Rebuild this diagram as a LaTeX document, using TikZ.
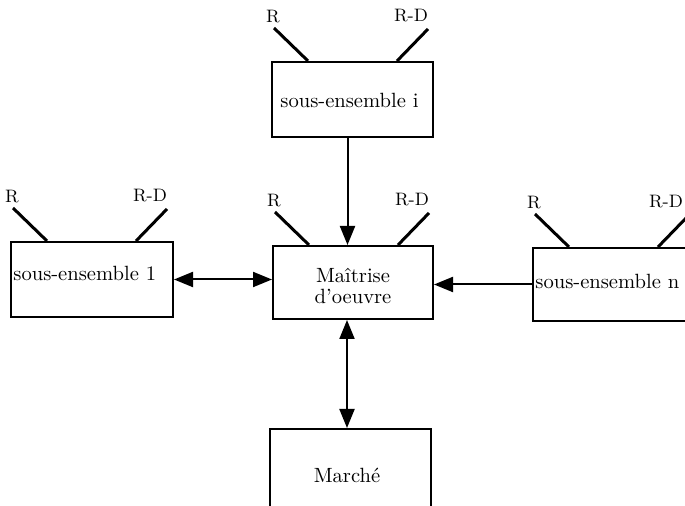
\documentclass[tikz,border=0pt]{standalone}
\usetikzlibrary{calc,arrows.meta}
\begin{document}
\begin{tikzpicture}[x=0.5pt,y=-0.5pt,
  box/.style={draw,line width=1pt,rectangle,inner sep=0pt,anchor=north west},
  txt/.style={inner sep=0pt,font=\fontsize{10.3}{12}\selectfont},
  lab/.style={inner sep=0pt,font=\fontsize{9}{10}\selectfont},
  ant/.style={line width=1.5pt},
  arr/.style={line width=1pt,-{Triangle[length=9.5pt,width=7.5pt]}},
  darr/.style={line width=1pt,{Triangle[length=9.5pt,width=7.5pt]}-{Triangle[length=9.5pt,width=7.5pt]}}]
\useasboundingbox (0,0) rectangle (685,506);
\clip (0,0) rectangle (685,506);

% boxes
\node[box,minimum width=80.5pt,minimum height=37.5pt] (si) at (271,61) {};
\node[box,minimum width=81pt,minimum height=37.5pt] (s1) at (10,241) {};
\node[box,minimum width=80pt,minimum height=36.5pt] (m) at (272,245) {};
\node[box,minimum width=84pt,minimum height=36.5pt] (sn) at (532,247) {};
\node[box,minimum width=80.5pt,minimum height=45pt] (mk) at (269,428) {};

% box texts
\node[txt,anchor=base west] (si-t) at (280,108) {sous-ensemble i};
\node[txt,anchor=base west] (s1-t) at (13,281) {sous-ensemble 1};
\node[txt,anchor=base west] (sn-t) at (535,289) {sous-ensemble n};
\node[txt,anchor=base] (m-t1) at (353,283) {Maîtrise};
\node[txt,anchor=base] (m-t2) at (353,304) {d'oeuvre};
\node[txt,anchor=base] (mk-t) at (347,483) {Marché};

% the two slanted R / R-D leads above each box
% #1 = box name, #2 = horizontal offset of the R-D label
\newcommand{\leads}[2]{%
  \coordinate (#1-r) at ($(#1.north west)+(3,-33)$);
  \coordinate (#1-ra) at ($(#1.north west)+(37,0)$);
  \coordinate (#1-d) at ($(#1.north west)+(157,-32)$);
  \coordinate (#1-da) at ($(#1.north west)+(126,0)$);
  \draw[ant] (#1-r) -- (#1-ra);
  \draw[ant] (#1-d) -- (#1-da);
  \node[lab] (#1-rl) at ($(#1-r)+(-1,-11)$) {R};
  \node[lab] (#1-dl) at ($(#1-d)+(#2,-13)$) {R-D};
}
\leads{si}{-17}
\leads{s1}{-17}
\leads{m}{-17}
\leads{sn}{-23}

% connectors
\draw[arr] ([xshift=-2.5pt]si.south) -- ([xshift=-2.5pt]si.south |- m.north);
\draw[darr] (s1.east) -- (s1.east -| m.west);
\draw[arr] (sn.west) -- (sn.west -| m.east);
\draw[darr] ([xshift=-3pt]m.south) -- ([xshift=-3pt]m.south |- mk.north);
\end{tikzpicture}
\end{document}
